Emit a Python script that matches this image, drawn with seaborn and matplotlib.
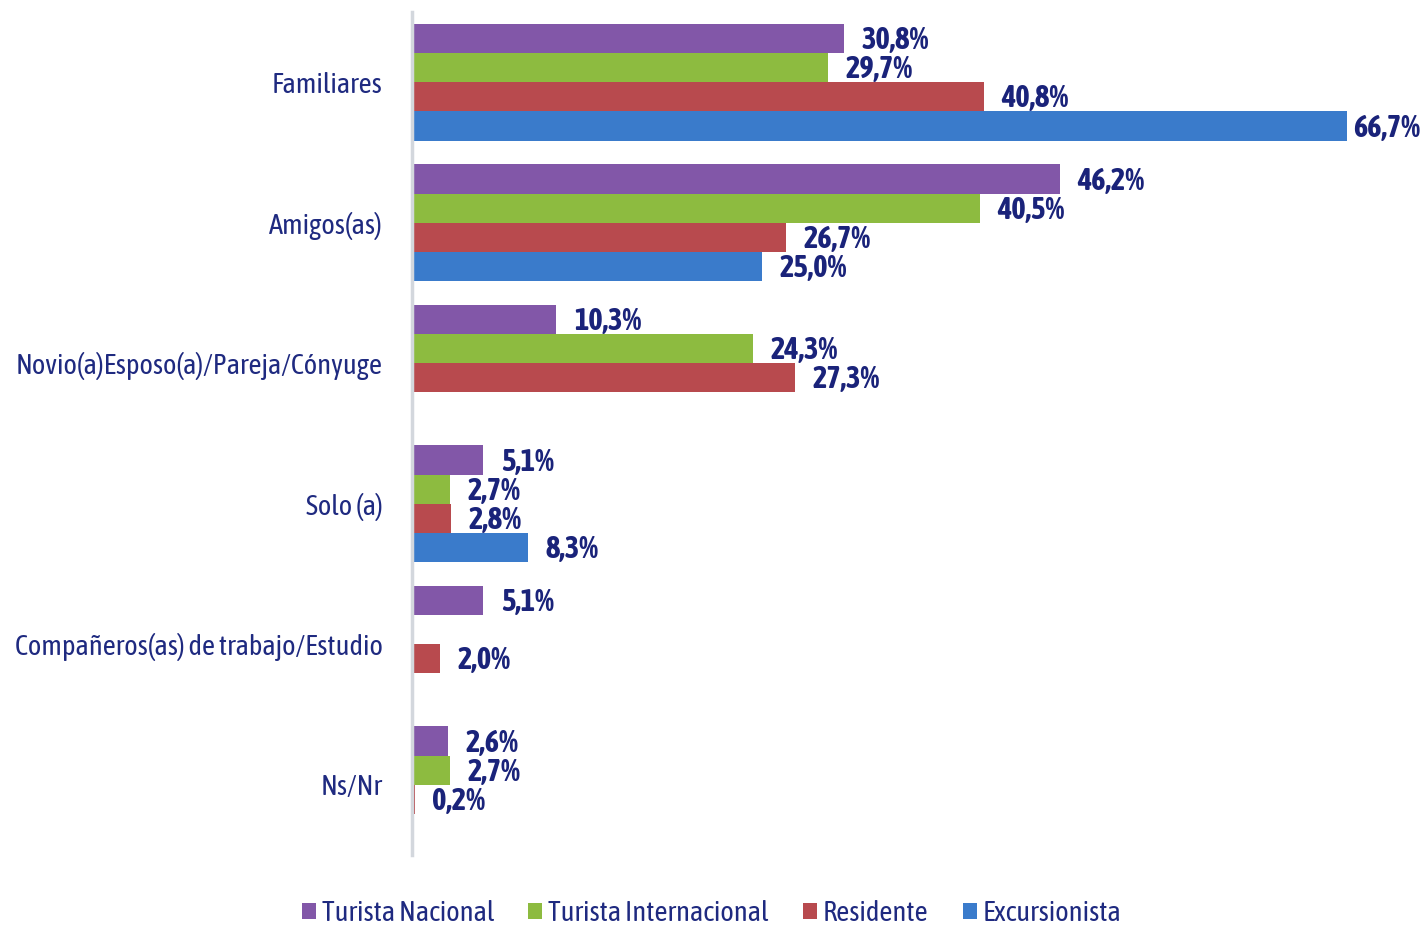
import matplotlib
matplotlib.use("Agg")
import matplotlib.pyplot as plt
from matplotlib import font_manager
import numpy as np
import pandas as pd
import seaborn as sns

CATEGORIES = [
    "Familiares",
    "Amigos(as)",
    "Novio(a)Esposo(a)/Pareja/Cónyuge",
    "Solo (a)",
    "Compañeros(as) de trabajo/Estudio",
    "Ns/Nr",
]
SERIES = ["Turista Nacional", "Turista Internacional", "Residente", "Excursionista"]

TURISTA_NACIONAL = [30.8, 46.2, 10.3, 5.1, 5.1, 2.6]
TURISTA_INTERNACIONAL = [29.7, 40.5, 24.3, 2.7, np.nan, 2.7]
RESIDENTE = [40.8, 26.7, 27.3, 2.8, 2.0, 0.2]
EXCURSIONISTA = [66.7, 25.0, np.nan, 8.3, np.nan, np.nan]

PALETTE = ["#8257A8", "#8DBB40", "#B84A4E", "#3A7BCB"]
TEXT_COLOR = "#1F2A80"
LABEL_COLOR = "#1A237A"

sns.set_theme(style="white")


def _weight(w):
    if isinstance(w, str):
        return {"bold": 700, "semibold": 600, "demibold": 600, "heavy": 800,
                "black": 900, "extra bold": 800}.get(w.lower(), 400)
    return int(w)


# prefer a narrow face (with a bold cut) if one is installed
weights = {}
for f in font_manager.fontManager.ttflist:
    low = f.name.lower()
    if "narrow" in low or "condensed" in low:
        weights.setdefault(f.name, set()).add(_weight(f.weight))
with_bold = [n for n, ws in weights.items() if max(ws) >= 600 and min(ws) <= 500]
narrow = with_bold or list(weights)
FONT = narrow[0] if narrow else "Liberation Sans"
plt.rcParams["font.family"] = [FONT, "DejaVu Sans"]
TICK_SIZE = 20.5 if narrow else 18
LABEL_SIZE = 22 if narrow else 17

rows = []
for name, vals in zip(
    SERIES, [TURISTA_NACIONAL, TURISTA_INTERNACIONAL, RESIDENTE, EXCURSIONISTA]
):
    for cat, v in zip(CATEGORIES, vals):
        rows.append({"categoria": cat, "serie": name, "valor": v})
df = pd.DataFrame(rows)

fig = plt.figure(figsize=(14.23, 9.26), dpi=100)
ax = fig.add_axes([0.2895, 0.0767, 0.69, 0.9103])

sns.barplot(
    data=df,
    y="categoria",
    x="valor",
    hue="serie",
    order=CATEGORIES,
    hue_order=SERIES,
    palette=PALETTE,
    saturation=1,
    orient="h",
    width=0.83,
    dodge=True,
    errorbar=None,
    linewidth=0,
    ax=ax,
    legend=True,
)

ax.set_xlim(0, 66.7 * (1423 * 0.69) / (1347 - 412))
ax.set_ylim(5.5, -0.5)

fig.canvas.draw()
renderer = fig.canvas.get_renderer()
for container in ax.containers:
    for bar in container:
        w = bar.get_width()
        if np.isnan(w):
            continue
        txt = ax.text(
            w + 1.25,
            bar.get_y() + bar.get_height() / 2 + 0.015,
            f"{w:.1f}%".replace(".", ","),
            ha="left",
            va="center",
            fontsize=LABEL_SIZE,
            fontweight="bold",
            color=LABEL_COLOR,
            clip_on=False,
        )
        # keep labels inside the figure
        bb = txt.get_window_extent(renderer)
        over = bb.x1 - (fig.bbox.width - 3)
        if over > 0:
            x0, y0 = txt.get_position()
            inv = ax.transData.inverted()
            dx = inv.transform((over, 0))[0] - inv.transform((0, 0))[0]
            txt.set_position((x0 - dx, y0))

ax.set_xlabel("")
ax.set_ylabel("")
ax.set_xticks([])
ax.tick_params(axis="y", length=0, pad=21, labelsize=TICK_SIZE, labelcolor=TEXT_COLOR)
for s in ["top", "right", "bottom"]:
    ax.spines[s].set_visible(False)
ax.spines["left"].set_color("#D3D7DD")
ax.spines["left"].set_linewidth(2.5)

handles, labels = ax.get_legend_handles_labels()
ax.legend_.remove()
leg = fig.legend(
    handles,
    labels,
    loc="center",
    bbox_to_anchor=(0.5, 0.013),
    ncol=4,
    frameon=False,
    fontsize=TICK_SIZE,
    handlelength=0.5,
    handleheight=0.5,
    handletextpad=0.2,
    columnspacing=1.2,
)
for t in leg.get_texts():
    t.set_color(TEXT_COLOR)

fig.savefig("out.png", dpi=100)
